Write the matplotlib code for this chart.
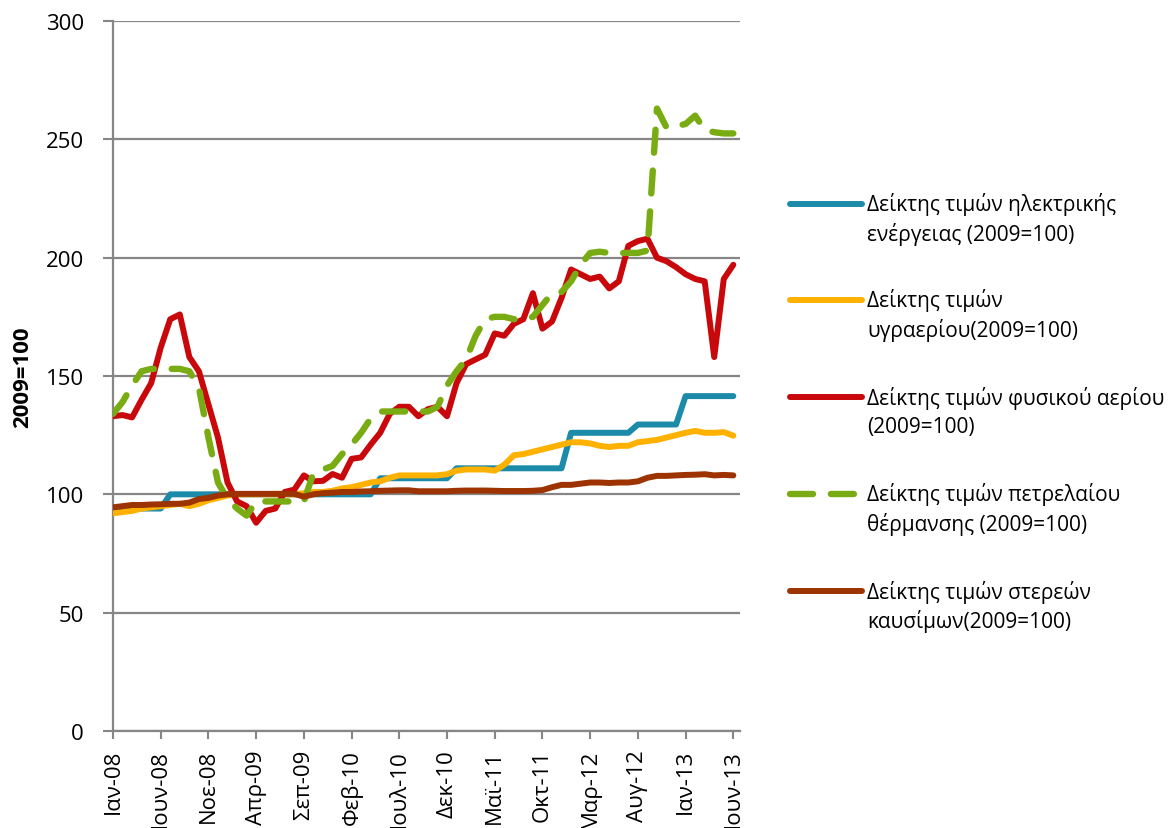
import matplotlib
matplotlib.use('Agg')
import matplotlib.pyplot as plt
from matplotlib.lines import Line2D
import numpy as np

# μήνες / χρονιές για τις ετικέτες του άξονα x
months = ['Ιαν', 'Φεβ', 'Μαρ', 'Απρ', 'Μαϊ', 'Ιουν', 'Ιουλ', 'Αυγ', 'Σεπ', 'Οκτ', 'Νοε', 'Δεκ']
years = ['08', '09', '10', '11', '12', '13']

series_names = [
    'Δείκτης τιμών ηλεκτρικής\nενέργειας (2009=100)',
    'Δείκτης τιμών\nυγραερίου(2009=100)',
    'Δείκτης τιμών φυσικού αερίου\n(2009=100)',
    'Δείκτης τιμών πετρελαίου\nθέρμανσης (2009=100)',
    'Δείκτης τιμών στερεών\nκαυσίμων(2009=100)',
]

electricity = [94, 94, 94, 94, 94, 94,
               100, 100, 100, 100, 100, 100, 100, 100, 100, 100, 100,
               100, 100, 100, 100, 100, 100, 100, 100, 100, 100, 100,
               106.8, 106.8, 106.8, 106.8, 106.8, 106.8, 106.8, 106.8,
               111, 111, 111, 111, 111, 111, 111, 111, 111, 111, 111, 111,
               126, 126, 126, 126, 126, 126, 126,
               129.5, 129.5, 129.5, 129.5, 129.5,
               141.5, 141.5, 141.5, 141.5, 141.5, 141.5]

lpg = [92, 92.5, 93, 94, 94.5, 95, 95.5, 96, 95, 96, 97.5, 98.5, 99.5,
       100, 100, 100, 100, 100, 100, 100,
       100.5, 101, 101, 101.5, 102.5, 103, 104, 105, 105.5, 107, 108, 108,
       108, 108, 108, 108.5,
       110, 110.5, 110.5, 110.5, 110, 112.5, 116.5, 117, 118, 119, 120, 121,
       122, 122,
       121.5, 120.5, 120, 120.5, 120.5, 122, 122.5, 123, 124, 125, 126, 126.8,
       126, 126, 126.3, 124.8]

natural_gas = [133, 133.5, 132.5, 140, 147, 162, 174, 176, 158, 152, 138, 124,
               105, 97, 95, 88, 93, 94, 101, 102, 108,
               105.5, 105.7, 108.6, 107, 115, 115.6, 121, 126, 134, 137, 137,
               133, 136, 137, 133, 147, 155, 157, 159, 168, 167, 172, 174,
               185, 170, 173, 183, 195, 193, 191, 192, 187, 190, 205, 207,
               208, 200, 198.5, 196, 193, 191, 190, 158, 191, 197]

heating_oil = [134, 139, 146, 152, 153, 153, 153, 153, 152, 145, 124, 105,
               98, 94, 91, 97, 97, 97, 97, 97, 97,
               109, 110.5, 112, 117, 121, 126, 132, 135, 135, 135, 135, 135,
               135, 137, 146, 152, 157, 167, 174, 175, 175, 174, 174, 175,
               180, 185, 185.5, 190, 197, 202, 202.5, 202, 202, 202, 202,
               203, 263, 255, 255.5, 256.5, 260, 254, 253, 252.5, 252.5]

solid_fuel = [94.5, 95, 95.5, 95.5, 95.7, 95.8, 96, 96, 96.5, 98, 98.5, 99.5,
              100, 100.2, 100.2, 100.2, 100.2, 100.2, 100.2, 100.2,
              99, 100, 100.5, 100.7, 101, 101, 101.2, 101.3, 101.5, 101.6,
              101.7, 101.7, 101.3, 101.3, 101.3, 101.3,
              101.5, 101.6, 101.6, 101.6, 101.5, 101.4, 101.4, 101.4, 101.5,
              101.8, 103, 104, 104, 104.5, 105, 105, 104.8, 105, 105, 105.5,
              107, 107.8, 107.8, 108, 108.2, 108.3, 108.5, 108, 108.2, 108]

colors = ['#1C8BA9', '#FFB100', '#C8080B', '#78AC12', '#9C3300']
grid_gray = '#868686'
dash_pat = (3.6, 2.8)

plt.rcParams['font.family'] = ['Open Sans', 'DejaVu Sans']

n = len(electricity)
x = np.arange(n)
labels = [f'{months[i % 12]}-{years[i // 12]}' for i in range(n)]

fig = plt.figure(figsize=(11.68, 8.29), dpi=100)
W, H = 1168, 829
ax = fig.add_axes([113 / W, 97 / H, 627 / W, 710 / H])

all_series = [electricity, lpg, natural_gas, heating_oil, solid_fuel]
for i, (vals, c) in enumerate(zip(all_series, colors)):
    if i == 3:
        ax.plot(x, vals, color=c, lw=4.6, dashes=dash_pat,
                dash_capstyle='round', dash_joinstyle='round', zorder=3 + i)
    else:
        ax.plot(x, vals, color=c, lw=4.3, solid_capstyle='round',
                solid_joinstyle='round', zorder=3 + i)

ax.set_xlim(0, 65.7)
ax.set_ylim(0, 300)
ax.set_yticks(np.arange(0, 301, 50))
ax.set_xticks(x[::5])
ax.set_xticklabels(labels[::5], rotation=90)

ax.yaxis.grid(True, color=grid_gray, lw=1.6)
ax.set_axisbelow(True)
for s in ['top', 'right']:
    ax.spines[s].set_visible(False)
for s in ['left', 'bottom']:
    ax.spines[s].set_color(grid_gray)
    ax.spines[s].set_linewidth(1.6)

ax.tick_params(axis='y', length=7, width=1.5, color=grid_gray, pad=14,
               labelsize=16)
ax.tick_params(axis='x', length=6, width=1.5, color=grid_gray, pad=7,
               labelsize=16)

fig.text(23 / W, 1 - 377 / H, '2009=100', rotation=90, fontweight='bold',
         fontsize=16, ha='center', va='center')

# υπόμνημα σε στυλ Excel: η γραμμή στο ύψος της πρώτης σειράς κειμένου
legend_y = [205, 301, 398, 495, 592]
for i, (name, c, ly) in enumerate(zip(series_names, colors, legend_y)):
    if i == 3:
        h = Line2D([790 / W, 862 / W], [1 - ly / H] * 2, color=c, lw=4.6,
                   dashes=dash_pat, dash_capstyle='round',
                   transform=fig.transFigure)
    else:
        h = Line2D([790 / W, 862 / W], [1 - ly / H] * 2, color=c, lw=4.3,
                   solid_capstyle='round', transform=fig.transFigure)
    fig.add_artist(h)
    for k, line in enumerate(name.split('\n')):
        fig.text(867 / W, 1 - (ly + 30 * k) / H, line, fontsize=15,
                 ha='left', va='center')

fig.savefig('out.png', dpi=100)
plt.close(fig)
